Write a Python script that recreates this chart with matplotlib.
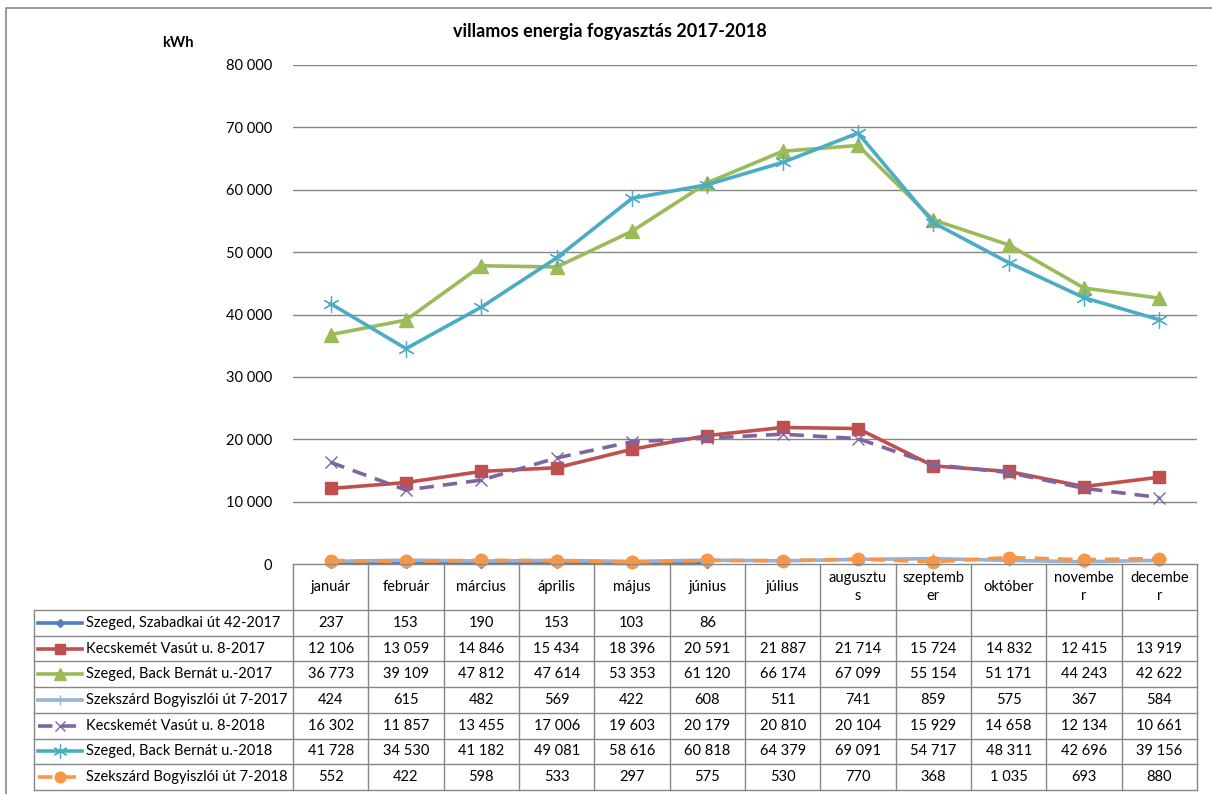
import matplotlib
matplotlib.use('Agg')
import matplotlib.pyplot as plt
from matplotlib.lines import Line2D

plt.rcParams['font.family'] = ['Lato', 'DejaVu Sans']

months = ['január', 'február', 'március', 'április', 'május', 'június',
          'július', 'augusztu\ns', 'szeptemb\ner', 'október', 'novembe\nr', 'decembe\nr']

names = ['Szeged, Szabadkai út 42-2017', 'Kecskemét Vasút u. 8-2017',
         'Szeged, Back Bernát u.-2017', 'Szekszárd Bogyiszlói út 7-2017',
         'Kecskemét Vasút u. 8-2018', 'Szeged, Back Bernát u.-2018',
         'Szekszárd Bogyiszlói út 7-2018']

szabadkai_2017 = [237, 153, 190, 153, 103, 86, None, None, None, None, None, None]
kecskemet_2017 = [12106, 13059, 14846, 15434, 18396, 20591, 21887, 21714, 15724, 14832, 12415, 13919]
back_2017 = [36773, 39109, 47812, 47614, 53353, 61120, 66174, 67099, 55154, 51171, 44243, 42622]
szekszard_2017 = [424, 615, 482, 569, 422, 608, 511, 741, 859, 575, 367, 584]
kecskemet_2018 = [16302, 11857, 13455, 17006, 19603, 20179, 20810, 20104, 15929, 14658, 12134, 10661]
back_2018 = [41728, 34530, 41182, 49081, 58616, 60818, 64379, 69091, 54717, 48311, 42696, 39156]
szekszard_2018 = [552, 422, 598, 533, 297, 575, 530, 770, 368, 1035, 693, 880]

series = [szabadkai_2017, kecskemet_2017, back_2017, szekszard_2017,
          kecskemet_2018, back_2018, szekszard_2018]

# color, linestyle, marker, markersize, marker edge width, zorder
styles = [('#4F81BD', '-', 'D', 5, 1, 3),
          ('#C0504D', '-', 's', 9, 1, 4),
          ('#9BBB59', '-', '^', 10, 1, 5),
          ('#95B3D7', '-', '+', 9, 1, 3),
          ('#8064A2', (0, (4, 2.5)), 'x', 9, 1, 4),
          ('#4BACC6', '-', (6, 2, 0), 12, 0.9, 5),
          ('#F79646', (0, (4, 2.5)), 'o', 9, 1, 4)]

W, H = 1212, 794
fig = plt.figure(figsize=(W / 100, H / 100), dpi=100)

def box(x0, y0, x1, y1):
    return [x0 / W, 1 - y1 / H, (x1 - x0) / W, (y1 - y0) / H]

# outer chart border
border = fig.add_axes([0, 0, 1, 1])
border.set_xlim(0, W); border.set_ylim(H, 0); border.axis('off')
border.plot([6, 6, W + 5], [H + 5, 8, 8], color='#868686', lw=1.2)

x_left, x_right, y_top, y_zero = 293, 1197, 65, 564
ax = fig.add_axes(box(x_left, y_top, x_right, y_zero))
xs = list(range(len(months)))
for vals, (c, ls, mk, ms, mw, z) in zip(series, styles):
    pts = [(x, v) for x, v in zip(xs, vals) if v is not None]
    ax.plot([p[0] for p in pts], [p[1] for p in pts], color=c, ls=ls, lw=2.6,
            marker=mk, ms=ms, mew=mw, mec=c, mfc=c, zorder=z, clip_on=False)
ax.set_xlim(-0.5, len(months) - 0.5)
ax.set_ylim(0, 80000)
ticks = list(range(0, 80001, 10000))
ax.set_yticks(ticks)
ax.set_yticklabels([f'{t:,}'.replace(',', ' ') for t in ticks], fontsize=10.5)
ax.tick_params(axis='y', length=0, pad=15)
ax.set_xticks([])
for s in ax.spines.values():
    s.set_visible(False)
ax.grid(axis='y', color='#868686', lw=1)
ax.set_axisbelow(True)

fig.text(610 / W, 1 - 32 / H, 'villamos energia fogyasztás 2017-2018',
         ha='center', va='center', fontsize=13, fontweight='bold')
fig.text(178 / W, 1 - 43 / H, 'kWh', ha='center', va='center', fontsize=10.5, fontweight='bold')

# data table below the chart
t_left, t_bottom = 34, 790
head_h = 46
row_h = (t_bottom - y_zero - head_h) / len(series)
col_w = (x_right - x_left) / len(months)
tab = fig.add_axes(box(0, y_zero, W, t_bottom + 2))
tab.set_xlim(0, W); tab.set_ylim(t_bottom + 2, y_zero); tab.axis('off')
lc = '#868686'
rows_top = y_zero + head_h
tab.plot([x_left, x_right], [y_zero, y_zero], color=lc, lw=1)
for i in range(len(series) + 1):
    y = rows_top + i * row_h
    tab.plot([t_left, x_right], [y, y], color=lc, lw=1)
tab.plot([t_left, t_left], [rows_top, t_bottom], color=lc, lw=1)
for j in range(len(months) + 1):
    x = x_left + j * col_w
    tab.plot([x, x], [y_zero, t_bottom], color=lc, lw=1)
for j, m in enumerate(months):
    tab.text(x_left + (j + 0.5) * col_w, y_zero + head_h / 2, m, ha='center', va='center',
             fontsize=10.5, linespacing=1.45)
for i, (nm, vals, (c, ls, mk, ms, mw, z)) in enumerate(zip(names, series, styles)):
    yc = rows_top + (i + 0.5) * row_h
    tab.add_line(Line2D([38, 60, 82], [yc, yc, yc], color=c, lw=2.6, ls=ls, marker=mk,
                        markevery=[1], ms=ms * 0.85, mew=mw, mec=c, mfc=c))
    tab.text(86, yc, nm, ha='left', va='center', fontsize=10.5)
    for j, v in enumerate(vals):
        if v is None:
            continue
        tab.text(x_left + (j + 0.5) * col_w, yc, f'{v:,}'.replace(',', ' '),
                 ha='center', va='center', fontsize=10.5)

fig.savefig('out.png', dpi=100)
